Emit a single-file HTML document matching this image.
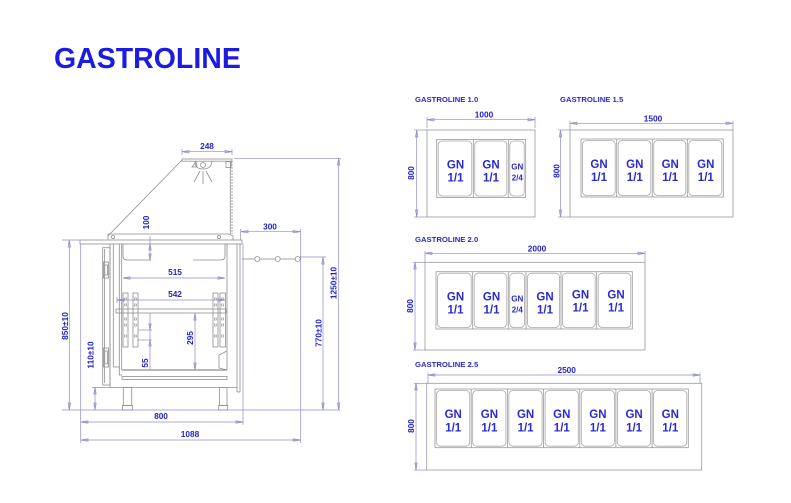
<!DOCTYPE html>
<html><head><meta charset="utf-8"><style>
html,body{margin:0;padding:0;background:#fff;}
svg{display:block;}
text{font-family:"Liberation Sans",Arial,sans-serif;font-weight:bold;}
</style></head><body>
<svg width="791" height="503" viewBox="0 0 791 503" xmlns="http://www.w3.org/2000/svg">
<rect width="791" height="503" fill="#fff"/>
<text x="54" y="68" font-size="28.5" fill="#1c1ce0">GASTROLINE</text>

<!-- ============ LEFT SIDE VIEW ============ -->
<g stroke="#8f8f8f" fill="none" stroke-width="0.8">
  <!-- canopy -->
  <rect x="182" y="159" width="50" height="2.2"/>
  <path d="M195,161.5 Q195,169 203,169 Q211,169 212,161.5"/>
  <circle cx="203" cy="165" r="2.5"/>
  <path d="M192,167 L196,162 L197,167 Z"/>
  <rect x="226" y="161.5" width="5" height="6"/>
  <line x1="200" y1="171" x2="194" y2="182"/>
  <line x1="203" y1="171" x2="203" y2="184"/>
  <line x1="206" y1="171" x2="212" y2="182"/>
  <line x1="182" y1="160" x2="108" y2="236"/>
  <line x1="230.3" y1="161" x2="230.3" y2="234"/>
  <line x1="232" y1="161" x2="232" y2="234" stroke-dasharray="2,1"/>
  <path d="M108,240 V234 H229 L233,236 V240"/>
  <circle cx="113" cy="237" r="1.6"/>
  <circle cx="219" cy="237" r="1.6"/>
  <!-- countertop -->
  <rect x="80" y="240" width="162" height="4"/>
  <!-- door panel -->
  <rect x="102.7" y="247.7" width="7.3" height="137.3"/>
  <line x1="104.6" y1="249" x2="104.6" y2="383"/>
  <rect x="103.5" y="262" width="5" height="16"/>
  <rect x="104.8" y="265" width="2.6" height="10"/>
  <rect x="103.5" y="348" width="5" height="19"/>
  <rect x="104.8" y="351" width="2.6" height="13"/>
  <!-- walls -->
  <line x1="110" y1="244" x2="110" y2="388"/>
  <line x1="113.3" y1="244" x2="113.3" y2="367"/>
  <line x1="119.3" y1="244" x2="119.3" y2="369"/>
  <line x1="121.7" y1="244" x2="121.7" y2="370"/>
  <path d="M113.3,367 H119.3 V375 H122"/>
  <line x1="227" y1="244" x2="227" y2="370"/>
  <line x1="237" y1="244" x2="237" y2="392"/>
  <line x1="240" y1="244" x2="240" y2="392"/>
  <line x1="237" y1="392" x2="240" y2="392"/>
  <!-- top well -->
  <path d="M123,244 V256 Q123,260 127,260 H151"/>
  <path d="M193,260 H221 Q225,260 225,256 V244"/>
  <!-- shelf -->
  <rect x="116" y="309" width="110" height="4"/>
  <!-- rails -->
  <rect x="123" y="293" width="5" height="54"/>
  <rect x="133" y="293" width="5" height="54"/>
  <rect x="213" y="293" width="5" height="54"/>
  <rect x="220" y="293" width="5.5" height="54"/>
  <g stroke-width="0.6">
    <rect x="124.5" y="298" width="2" height="2"/><rect x="134.5" y="298" width="2" height="2"/>
    <rect x="124.5" y="304" width="2" height="2"/><rect x="134.5" y="304" width="2" height="2"/>
    <rect x="124.5" y="318" width="2" height="2"/><rect x="134.5" y="318" width="2" height="2"/>
    <rect x="124.5" y="324" width="2" height="2"/><rect x="134.5" y="324" width="2" height="2"/>
    <rect x="124.5" y="335" width="2" height="2"/><rect x="134.5" y="335" width="2" height="2"/>
    <rect x="214.5" y="298" width="2" height="2"/><rect x="221.5" y="298" width="2" height="2"/>
    <rect x="214.5" y="304" width="2" height="2"/><rect x="221.5" y="304" width="2" height="2"/>
    <rect x="214.5" y="318" width="2" height="2"/><rect x="221.5" y="318" width="2" height="2"/>
    <rect x="214.5" y="324" width="2" height="2"/><rect x="221.5" y="324" width="2" height="2"/>
    <rect x="214.5" y="335" width="2" height="2"/><rect x="221.5" y="335" width="2" height="2"/>
  </g>
  <path d="M227,351 L219,355 V368 L227,370"/>
  <!-- bottom -->
  <line x1="122" y1="370" x2="227" y2="370" stroke-width="1.2"/>
  <rect x="122" y="376.5" width="105" height="3"/>
  <line x1="110" y1="387.5" x2="237" y2="387.5"/>
  <!-- legs -->
  <rect x="123.3" y="387.5" width="8.4" height="18"/>
  <rect x="122.5" y="405.5" width="10" height="4.5"/>
  <rect x="219.5" y="387.5" width="7.5" height="18"/>
  <rect x="218.7" y="405.5" width="9" height="4.5"/>
  <!-- circles rail -->
  <line x1="242" y1="259" x2="255" y2="259"/>
  <line x1="259.8" y1="259" x2="275.2" y2="259"/>
  <line x1="280.2" y1="259" x2="295.2" y2="259"/>
  <circle cx="257.3" cy="259" r="2.5"/>
  <circle cx="277.7" cy="259" r="2.5"/>
  <circle cx="297.7" cy="259" r="2.5"/>
</g>

<!-- dimension lines left -->
<g stroke="#8c8cc8" fill="none" stroke-width="0.7">
  <!-- 248 -->
  <line x1="182" y1="151.7" x2="232" y2="151.7"/>
  <line x1="182" y1="149" x2="182" y2="155"/><line x1="232" y1="149" x2="232" y2="155"/>
  <path d="M182,151.7 L189,150.5 L189,152.9 Z M232,151.7 L225,150.5 L225,152.9 Z"/>
  <!-- 100 -->
  <line x1="150" y1="236" x2="150" y2="260"/>
  <path d="M150,244 L148.8,250 L151.2,250 Z M150,260 L148.8,254 L151.2,254 Z"/>
  <!-- 515 -->
  <line x1="123" y1="278" x2="225" y2="278"/>
  <path d="M123,278 L130,276.8 L130,279.2 Z M225,278 L218,276.8 L218,279.2 Z"/>
  <!-- 542 -->
  <line x1="117" y1="300" x2="225" y2="300"/>
  <line x1="117" y1="297" x2="117" y2="303"/>
  <path d="M117,300 L124,298.8 L124,301.2 Z M225,300 L218,298.8 L218,301.2 Z"/>
  <!-- 295 -->
  <line x1="195" y1="313" x2="195" y2="370"/>
  <path d="M195,313 L193.8,320 L196.2,320 Z M195,370 L193.8,363 L196.2,363 Z"/>
  <!-- 55 -->
  <line x1="150" y1="313" x2="150" y2="370"/>
  <line x1="138" y1="330" x2="152" y2="330"/><line x1="138" y1="340" x2="152" y2="340"/>
  <path d="M150,330 L148.8,324 L151.2,324 Z M150,340 L148.8,346 L151.2,346 Z"/>
  <!-- 850 -->
  <line x1="62" y1="240" x2="80" y2="240"/>
  <line x1="69.3" y1="240" x2="69.3" y2="410"/>
  <path d="M69.3,240 L68.1,247 L70.5,247 Z M69.3,410 L68.1,403 L70.5,403 Z"/>
  <!-- 110 -->
  <line x1="92" y1="387.5" x2="110" y2="387.5"/>
  <line x1="95" y1="387.5" x2="95" y2="410"/>
  <path d="M95,387.5 L93.8,394 L96.2,394 Z M95,410 L93.8,403 L96.2,403 Z"/>
  <!-- floor -->
  <line x1="62" y1="410" x2="340" y2="410"/>
  <!-- verticals -->
  <line x1="80.7" y1="244" x2="80.7" y2="443"/>
  <line x1="243" y1="244" x2="243" y2="425"/>
  <line x1="300.7" y1="229" x2="300.7" y2="443"/>
  <line x1="240.7" y1="229" x2="240.7" y2="240"/>
  <!-- 800 -->
  <line x1="80.7" y1="422" x2="243" y2="422"/>
  <path d="M80.7,422 L88,420.8 L88,423.2 Z M243,422 L236,420.8 L236,423.2 Z"/>
  <!-- 1088 -->
  <line x1="80.7" y1="440" x2="300.7" y2="440"/>
  <path d="M80.7,440 L88,438.8 L88,441.2 Z M300.7,440 L293,438.8 L293,441.2 Z"/>
  <!-- 300 -->
  <line x1="240.7" y1="231.7" x2="300.7" y2="231.7"/>
  <path d="M240.7,231.7 L248,230.5 L248,232.9 Z M300.7,231.7 L293,230.5 L293,232.9 Z"/>
  <!-- 770 -->
  <line x1="300" y1="257" x2="326" y2="257"/>
  <line x1="323" y1="257" x2="323" y2="410"/>
  <path d="M323,257 L321.8,264 L324.2,264 Z M323,410 L321.8,403 L324.2,403 Z"/>
  <!-- 1250 -->
  <line x1="234" y1="158.3" x2="341" y2="158.3"/>
  <line x1="338.7" y1="158.3" x2="338.7" y2="410"/>
  <path d="M338.7,158.3 L337.5,165 L339.9,165 Z M338.7,410 L337.5,403 L339.9,403 Z"/>
</g>

<g fill="#2424c8" font-size="8.3" text-anchor="middle">
  <text x="207" y="149">248</text>
  <text x="270" y="229.5">300</text>
  <text x="175" y="275">515</text>
  <text x="175" y="297">542</text>
  <text x="161" y="419">800</text>
  <text x="190" y="437">1088</text>
  <text transform="translate(149,222.5) rotate(-90)">100</text>
  <text transform="translate(193,338) rotate(-90)">295</text>
  <text transform="translate(148,363) rotate(-90)">55</text>
  <text transform="translate(68,326) rotate(-90)">850±10</text>
  <text transform="translate(93.5,355) rotate(-90)">110±10</text>
  <text transform="translate(321.5,333) rotate(-90)">770±10</text>
  <text transform="translate(336.5,283) rotate(-90)">1250±10</text>
</g>

<!-- ============ RIGHT: GN LAYOUTS ============ -->
<g fill="#2a2ad0" font-size="7.7">
  <text x="415" y="102">GASTROLINE 1.0</text>
  <text x="560" y="102">GASTROLINE 1.5</text>
  <text x="415" y="242">GASTROLINE 2.0</text>
  <text x="415" y="367">GASTROLINE 2.5</text>
</g>

<!-- outer rects + containers -->
<g stroke="#999" fill="none" stroke-width="0.8">
  <rect x="427" y="130" width="108" height="87"/>
  <rect x="570" y="130" width="163" height="87"/>
  <rect x="425" y="262.3" width="220" height="87.7"/>
  <rect x="426.7" y="383.3" width="275" height="86.7"/>

  <rect x="436.7" y="139.5" width="89" height="58"/>
  <line x1="473.3" y1="139.5" x2="473.3" y2="197.5"/><line x1="508.3" y1="139.5" x2="508.3" y2="197.5"/>

  <rect x="581" y="139" width="142.3" height="58"/>
  <line x1="616.7" y1="139" x2="616.7" y2="197"/><line x1="652.3" y1="139" x2="652.3" y2="197"/><line x1="687.3" y1="139" x2="687.3" y2="197"/>

  <rect x="436" y="271.7" width="196.3" height="57.3"/>
  <line x1="472.7" y1="271.7" x2="472.7" y2="329"/><line x1="508.3" y1="271.7" x2="508.3" y2="329"/><line x1="526" y1="271.7" x2="526" y2="329"/><line x1="561" y1="271.7" x2="561" y2="329"/><line x1="596.7" y1="271.7" x2="596.7" y2="329"/>

  <rect x="435" y="389" width="253.3" height="58.7"/>
  <line x1="471.2" y1="389" x2="471.2" y2="447.7"/><line x1="507.4" y1="389" x2="507.4" y2="447.7"/><line x1="543.6" y1="389" x2="543.6" y2="447.7"/><line x1="579.8" y1="389" x2="579.8" y2="447.7"/><line x1="615.9" y1="389" x2="615.9" y2="447.7"/><line x1="652.1" y1="389" x2="652.1" y2="447.7"/>
</g>
<!-- pans (rounded) -->
<g stroke="#a8a8a8" fill="none" stroke-width="0.8">
  <rect x="438.2" y="141" width="33.6" height="55" rx="4"/>
  <rect x="474.8" y="141" width="32" height="55" rx="4"/>
  <rect x="509.8" y="141" width="14.4" height="55" rx="4"/>

  <rect x="582.5" y="140.5" width="32.7" height="55" rx="4"/>
  <rect x="618.2" y="140.5" width="32.6" height="55" rx="4"/>
  <rect x="653.8" y="140.5" width="32" height="55" rx="4"/>
  <rect x="688.8" y="140.5" width="33" height="55" rx="4"/>

  <rect x="437.5" y="273.2" width="33.7" height="54.3" rx="4"/>
  <rect x="474.2" y="273.2" width="32.6" height="54.3" rx="4"/>
  <rect x="509.8" y="273.2" width="14.7" height="54.3" rx="4"/>
  <rect x="527.5" y="273.2" width="32" height="54.3" rx="4"/>
  <rect x="562.5" y="273.2" width="32.7" height="54.3" rx="4"/>
  <rect x="598.2" y="273.2" width="32.6" height="54.3" rx="4"/>

  <rect x="436.5" y="390.5" width="33.2" height="55.7" rx="4"/>
  <rect x="472.7" y="390.5" width="33.2" height="55.7" rx="4"/>
  <rect x="508.9" y="390.5" width="33.2" height="55.7" rx="4"/>
  <rect x="545.1" y="390.5" width="33.2" height="55.7" rx="4"/>
  <rect x="581.3" y="390.5" width="33.1" height="55.7" rx="4"/>
  <rect x="617.4" y="390.5" width="33.2" height="55.7" rx="4"/>
  <rect x="653.6" y="390.5" width="33.2" height="55.7" rx="4"/>
</g>

<!-- GN dims -->
<g stroke="#8c8cc8" fill="none" stroke-width="0.7">
  <line x1="427" y1="119.7" x2="535" y2="119.7"/>
  <line x1="427" y1="117" x2="427" y2="128"/><line x1="535" y1="117" x2="535" y2="128"/>
  <path d="M427,119.7 L434,118.5 L434,120.9 Z M535,119.7 L528,118.5 L528,120.9 Z"/>
  <line x1="414" y1="130" x2="427" y2="130"/><line x1="414" y1="217" x2="427" y2="217"/>
  <line x1="416.7" y1="130" x2="416.7" y2="217"/>
  <path d="M416.7,130 L415.5,137 L417.9,137 Z M416.7,217 L415.5,210 L417.9,210 Z"/>

  <line x1="570" y1="123.3" x2="733" y2="123.3"/>
  <line x1="570" y1="121" x2="570" y2="130"/><line x1="733" y1="121" x2="733" y2="130"/>
  <path d="M570,123.3 L577,122.1 L577,124.5 Z M733,123.3 L726,122.1 L726,124.5 Z"/>
  <line x1="558" y1="130" x2="570" y2="130"/><line x1="558" y1="217" x2="570" y2="217"/>
  <line x1="560.5" y1="130" x2="560.5" y2="217"/>
  <path d="M560.5,130 L559.3,137 L561.7,137 Z M560.5,217 L559.3,210 L561.7,210 Z"/>

  <line x1="425" y1="253.3" x2="645" y2="253.3"/>
  <line x1="425" y1="251" x2="425" y2="262"/><line x1="645" y1="251" x2="645" y2="262"/>
  <path d="M425,253.3 L432,252.1 L432,254.5 Z M645,253.3 L638,252.1 L638,254.5 Z"/>
  <line x1="413" y1="262.3" x2="425" y2="262.3"/><line x1="413" y1="350" x2="425" y2="350"/>
  <line x1="415" y1="262.3" x2="415" y2="350"/>
  <path d="M415,262.3 L413.8,269 L416.2,269 Z M415,350 L413.8,343 L416.2,343 Z"/>

  <line x1="428" y1="375" x2="700" y2="375"/>
  <line x1="428" y1="372.5" x2="428" y2="383"/><line x1="700" y1="372.5" x2="700" y2="383"/>
  <path d="M428,375 L435,373.8 L435,376.2 Z M700,375 L693,373.8 L693,376.2 Z"/>
  <line x1="414" y1="383.3" x2="426.7" y2="383.3"/><line x1="414" y1="470" x2="426.7" y2="470"/>
  <line x1="416" y1="383.3" x2="416" y2="470"/>
  <path d="M416,383.3 L414.8,390 L417.2,390 Z M416,470 L414.8,463 L417.2,463 Z"/>
</g>
<g fill="#2424c8" font-size="8.3" text-anchor="middle">
  <text x="484" y="117.5">1000</text>
  <text x="653" y="121.5">1500</text>
  <text x="537" y="251.5">2000</text>
  <text x="566.7" y="373">2500</text>
  <text transform="translate(414,173) rotate(-90)">800</text>
  <text transform="translate(559.5,171) rotate(-90)">800</text>
  <text transform="translate(413,306) rotate(-90)">800</text>
  <text transform="translate(414,426) rotate(-90)">800</text>
</g>

<!-- GN labels -->
<g fill="#2a2ad0" font-size="11.5" text-anchor="middle">
  <text x="455.5" y="168.5">GN</text><text x="455.5" y="181.5">1/1</text>
  <text x="491" y="168.5">GN</text><text x="491" y="181.5">1/1</text>

  <text x="599" y="168">GN</text><text x="599" y="181">1/1</text>
  <text x="634.8" y="168">GN</text><text x="634.8" y="181">1/1</text>
  <text x="670.2" y="168">GN</text><text x="670.2" y="181">1/1</text>
  <text x="705.8" y="168">GN</text><text x="705.8" y="181">1/1</text>

  <text x="455.5" y="300.7">GN</text><text x="455.5" y="313.7">1/1</text>
  <text x="491.5" y="300.7">GN</text><text x="491.5" y="313.7">1/1</text>
  <text x="545" y="300.7">GN</text><text x="545" y="313.7">1/1</text>
  <text x="580.5" y="298.5">GN</text><text x="580.5" y="311.5">1/1</text>
  <text x="616" y="298.5">GN</text><text x="616" y="311.5">1/1</text>

  <text x="453.2" y="418">GN</text><text x="453.2" y="431.5">1/1</text>
  <text x="489.4" y="418">GN</text><text x="489.4" y="431.5">1/1</text>
  <text x="525.6" y="418">GN</text><text x="525.6" y="431.5">1/1</text>
  <text x="561.8" y="418">GN</text><text x="561.8" y="431.5">1/1</text>
  <text x="597.9" y="418">GN</text><text x="597.9" y="431.5">1/1</text>
  <text x="634.1" y="418">GN</text><text x="634.1" y="431.5">1/1</text>
  <text x="670.3" y="418">GN</text><text x="670.3" y="431.5">1/1</text>
</g>
<g fill="#2a2ad0" font-size="8" text-anchor="middle">
  <text x="517.3" y="169.7">GN</text><text x="517.3" y="180.7">2/4</text>
  <text x="517.3" y="301.5">GN</text><text x="517.3" y="312.5">2/4</text>
</g>
</svg>
</body></html>
